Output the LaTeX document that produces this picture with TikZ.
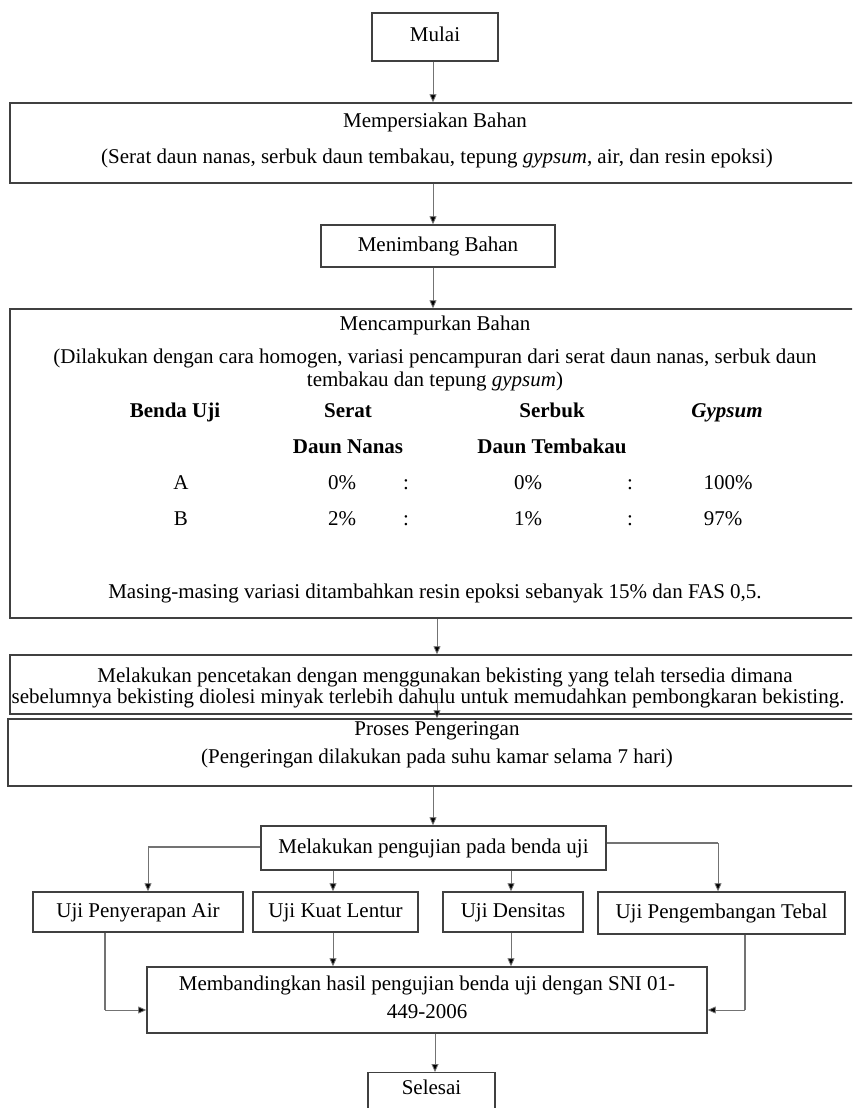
\documentclass[tikz,border=0pt]{standalone}
\usepackage{fontspec}
\setmainfont{Liberation Serif}
\usetikzlibrary{arrows.meta}
\begin{document}
\begin{tikzpicture}[x=1pt,y=-1pt,
  fnt/.style={font=\fontsize{21}{22}\selectfont},
  box/.style={draw=black!75,line width=1.4pt,inner sep=0pt,fnt,align=center,text height=14.5pt,text depth=4.5pt},
  txt/.style={inner sep=0pt,fnt,text height=14.5pt,text depth=4.5pt},
  btxt/.style={txt,font=\fontsize{21}{22}\selectfont\bfseries},
  arr/.style={draw=black!55,line width=0.8pt,-{Triangle[length=8pt,width=7pt,fill=black]}},
  lin/.style={draw=black!55,line width=1.6pt}]
\useasboundingbox (0,0) rectangle (852,1108);
\clip (0,0) rectangle (852,1108);
\fill[white] (0,0) rectangle (852,1108);
% boxes
\node[box,minimum width=126,minimum height=48] (mulai) at (435,37) {Mulai};
\node[box,minimum width=852,minimum height=80] (siap) at (436,143) {};
\node[txt] (siap1) at (435,122) {Mempersiakan Bahan};
\node[txt] (siap2) at (437,158) {(Serat daun nanas, serbuk daun tembakau, tepung \textit{gypsum}, air, dan resin epoksi)};
\node[box,minimum width=234,minimum height=42] (timbang) at (438,246) {Menimbang Bahan};
\node[box,minimum width=852,minimum height=309] (campur) at (436,463.5) {};
\node[txt] (c1) at (435,325) {Mencampurkan Bahan};
\node[txt] (c2) at (435,358) {(Dilakukan dengan cara homogen, variasi pencampuran dari serat daun nanas, serbuk daun};
\node[txt] (c3) at (435,381) {tembakau dan tepung \textit{gypsum})};
\node[btxt] (h1) at (175,412) {Benda Uji};
\node[btxt] (h2) at (348,412) {Serat};
\node[btxt] (h3) at (552,412) {Serbuk};
\node[btxt] (h4) at (727,412) {\textit{Gypsum}};
\node[btxt] (h5) at (348,448) {Daun Nanas};
\node[btxt] (h6) at (552,448) {Daun Tembakau};
\node[txt] (a1) at (181,484) {A};
\node[txt] (a2) at (342,484) {0\%};
\node[txt] (a3) at (406,484) {:};
\node[txt] (a4) at (528,484) {0\%};
\node[txt] (a5) at (630,484) {:};
\node[txt] (a6) at (728,484) {100\%};
\node[txt] (b1) at (181,520) {B};
\node[txt] (b2) at (342,520) {2\%};
\node[txt] (b3) at (406,520) {:};
\node[txt] (b4) at (528,520) {1\%};
\node[txt] (b5) at (630,520) {:};
\node[txt] (b6) at (723,520) {97\%};
\node[txt] (c4) at (435,593) {Masing-masing variasi ditambahkan resin epoksi sebanyak 15\% dan FAS 0,5.};
\node[box,minimum width=852,minimum height=59] (cetak) at (436,684.5) {};
\node[txt] (k1) at (445,677) {Melakukan pencetakan dengan menggunakan bekisting yang telah tersedia dimana};
\node[txt] (k2) at (428,698) {sebelumnya bekisting diolesi minyak terlebih dahulu untuk memudahkan pembongkaran bekisting.};
\node[box,minimum width=854,minimum height=67] (kering) at (435,752.5) {};
\node[txt] (g1) at (437,730) {Proses Pengeringan};
\node[txt] (g2) at (437,758) {(Pengeringan dilakukan pada suhu kamar selama 7 hari)};
\node[box,minimum width=345,minimum height=44] (uji) at (433.5,848) {Melakukan pengujian pada benda uji};
\node[box,minimum width=210,minimum height=40] (serap) at (138,912) {Uji Penyerapan Air};
\node[box,minimum width=165,minimum height=40] (lentur) at (335.5,912) {Uji Kuat Lentur};
\node[box,minimum width=140,minimum height=40] (dens) at (513,912) {Uji Densitas};
\node[box,minimum width=247,minimum height=42] (tebal) at (721.5,913) {Uji Pengembangan Tebal};
\node[box,minimum width=560,minimum height=66] (banding) at (427,1000) {};
\node[txt] (bd1) at (427,985) {Membandingkan hasil pengujian benda uji dengan SNI 01-};
\node[txt] (bd2) at (427,1013) {449-2006};
\node[box,minimum width=127,minimum height=44,anchor=north] (selesai) at (431.5,1072) {};
\node[txt] (s1) at (431.5,1089) {Selesai};
% connectors
\draw[arr] (mulai.south -| 433,0) -- (siap.north -| 433,0);
\draw[arr] (siap.south -| 433,0) -- (timbang.north -| 433,0);
\draw[arr] (timbang.south -| 433,0) -- (campur.north -| 433,0);
\draw[arr] (campur.south -| 437,0) -- (cetak.north -| 437,0);
\draw[arr] ([yshift=18pt]cetak.south -| 437,0) -- (kering.north -| 437,0);
\draw[arr] (kering.south -| 433,0) -- (uji.north -| 433,0);
\draw[lin] (uji.west |- 0,847) -- (148,847) coordinate (l1);
\draw[arr] (l1) -- (serap.north -| l1);
\draw[lin] (uji.east |- 0,843) -- (718,843) coordinate (r1);
\draw[arr] (r1) -- (tebal.north -| r1);
\draw[arr] (uji.south -| 333,0) -- (lentur.north -| 333,0);
\draw[arr] (uji.south -| 511,0) -- (dens.north -| 511,0);
\draw[arr] (lentur.south -| 333,0) -- (banding.north -| 333,0);
\draw[arr] (dens.south -| 511,0) -- (banding.north -| 511,0);
\draw[lin] (serap.south -| 105,0) -- (105,1010) coordinate (l2);
\draw[arr] (l2) -- (banding.west |- l2);
\draw[lin] (tebal.south -| 745,0) -- (745,1010) coordinate (r2);
\draw[arr] (r2) -- (banding.east |- r2);
\draw[arr] (banding.south -| 435,0) -- (selesai.north -| 435,0);
\end{tikzpicture}
\end{document}
